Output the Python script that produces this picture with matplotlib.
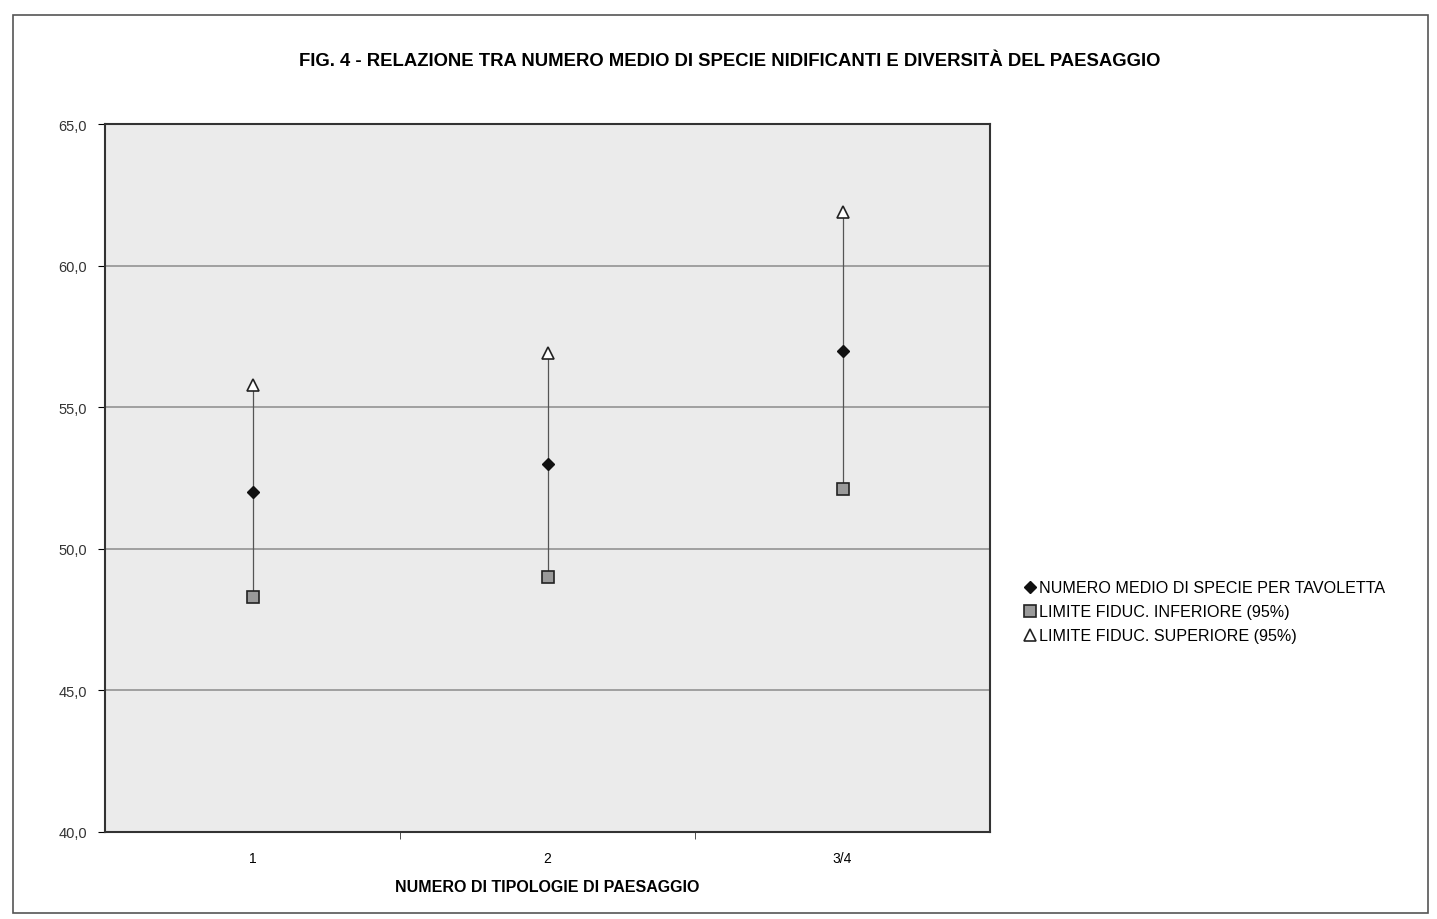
import matplotlib
matplotlib.use("Agg")
import matplotlib.pyplot as plt
from matplotlib.patches import Rectangle
from matplotlib.ticker import FuncFormatter

plt.rcParams['font.family'] = ['Liberation Sans', 'DejaVu Sans']

# dati
categorie = ['1', '2', '3/4']
media = [52.0, 53.0, 57.0]
limite_inf = [48.3, 49.0, 52.1]
limite_sup = [55.8, 56.9, 61.9]

titolo = "FIG. 4 - RELAZIONE TRA NUMERO MEDIO DI SPECIE NIDIFICANTI E DIVERSITÀ DEL PAESAGGIO"
etichetta_x = "NUMERO DI TIPOLOGIE DI PAESAGGIO"
legenda = ["NUMERO MEDIO DI SPECIE PER TAVOLETTA",
           "LIMITE FIDUC. INFERIORE (95%)",
           "LIMITE FIDUC. SUPERIORE (95%)"]

fig = plt.figure(figsize=(14.37, 9.2), dpi=100)
fig.patch.set_facecolor('white')

# cornice esterna del grafico
fig.patches.append(Rectangle((0.009, 0.006), 0.985, 0.977, transform=fig.transFigure,
                             fill=False, edgecolor='#555555', linewidth=1.2))

ax = fig.add_axes([0.0731, 0.0946, 0.6159, 0.7694])
ax.set_facecolor('#ebebeb')

x = list(range(len(categorie)))

# linee max-min
ax.vlines(x, limite_inf, limite_sup, color='#555555', linewidth=0.9, zorder=2)

ax.plot(x, media, linestyle='none', marker='D', markersize=6, color='#111111',
        label=legenda[0], zorder=4)
ax.plot(x, limite_inf, linestyle='none', marker='s', markersize=8,
        markerfacecolor='#9a9a9a', markeredgecolor='#222222', markeredgewidth=1.2,
        label=legenda[1], zorder=4)
ax.plot(x, limite_sup, linestyle='none', marker='^', markersize=8,
        markerfacecolor='white', markeredgecolor='#222222', markeredgewidth=1.2,
        label=legenda[2], zorder=4)

ax.set_xlim(-0.5, len(categorie) - 0.5)
ax.set_ylim(40, 65)
ax.set_yticks([40, 45, 50, 55, 60, 65])
ax.yaxis.set_major_formatter(FuncFormatter(lambda v, p: f"{v:.1f}".replace('.', ',')))
ax.set_xticks(x)
ax.set_xticklabels(categorie)
ax.set_xticks([0.5, 1.5], minor=True)
ax.tick_params(axis='x', which='major', length=0, pad=14, labelsize=10)
ax.tick_params(axis='x', which='minor', length=5, direction='out', color='#333333')
ax.tick_params(axis='y', length=5, direction='out', labelsize=10.5, pad=8,
               labelcolor='#333333')

ax.grid(axis='y', color='#9a9a9a', linewidth=1.3)
ax.set_axisbelow(True)
for s in ax.spines.values():
    s.set_color('#333333')
    s.set_linewidth(1.5)

ax.set_xlabel(etichetta_x, fontsize=11.5, fontweight='bold', labelpad=10)
fig.text(0.508, 0.933, titolo, ha='center', va='center', fontsize=13.3, fontweight='bold')

fig.legend(loc='upper left', bbox_to_anchor=(0.709, 0.375), frameon=False,
           fontsize=11.6, handlelength=0.6, handletextpad=0.25, labelspacing=0.55,
           borderaxespad=0)

fig.savefig("out.png", dpi=100)
